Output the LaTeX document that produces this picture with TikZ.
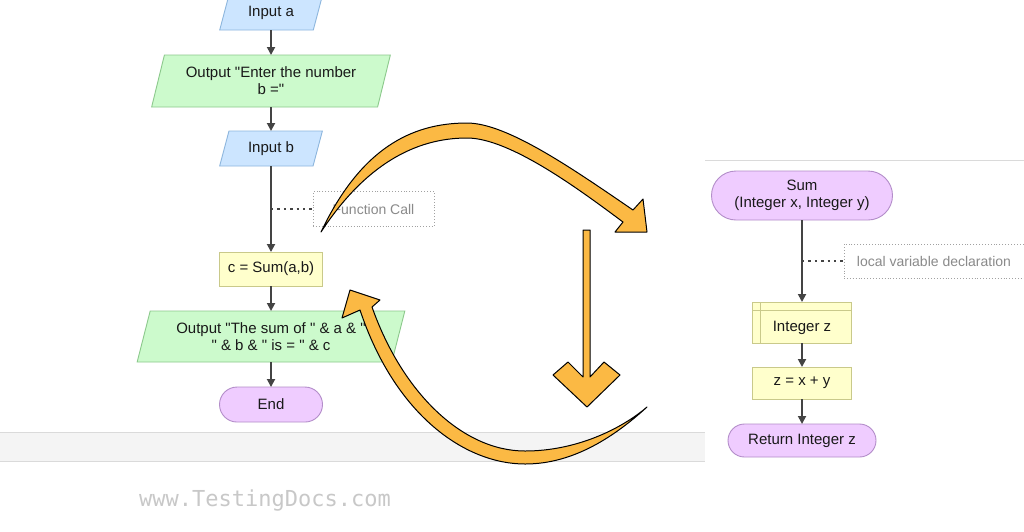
\documentclass[tikz,border=0pt]{standalone}
\usepackage{fontspec}
\setmainfont{Liberation Sans}[Ligatures=TeXOff]
\newfontfamily\markfont{DejaVu Sans Mono}
\usetikzlibrary{arrows.meta, positioning, calc, shapes.geometric, shapes.misc}
\definecolor{inblue}{HTML}{CCE5FF}
\definecolor{inbluedraw}{HTML}{8DB6DD}
\definecolor{outgreen}{HTML}{CCFACC}
\definecolor{outgreendraw}{HTML}{8CC98C}
\definecolor{procyellow}{HTML}{FFFFCC}
\definecolor{procyellowdraw}{HTML}{C9C98A}
\definecolor{termpurple}{HTML}{EFCCFF}
\definecolor{termpurpledraw}{HTML}{B38DC9}
\definecolor{flowgray}{HTML}{444444}
\definecolor{notegray}{HTML}{8A8A8A}
\definecolor{swaporange}{HTML}{FBB944}
\definecolor{bandgray}{HTML}{F4F4F4}
\definecolor{bandline}{HTML}{DADADA}
\definecolor{markgray}{HTML}{C8C8C8}
\tikzset{
    fcbox/.style={draw, line width=0.9pt, inner sep=0pt, outer sep=0pt, align=center, text=black!90, font=\fontsize{15}{17}\selectfont},
    iobox/.style={fcbox, trapezium, trapezium left angle=70, trapezium right angle=110, trapezium stretches=true},
    inbox/.style={iobox, draw=inbluedraw, fill=inblue},
    outbox/.style={iobox, draw=outgreendraw, fill=outgreen},
    procbox/.style={fcbox, rectangle, draw=procyellowdraw, fill=procyellow},
    termbox/.style={fcbox, rounded rectangle, draw=termpurpledraw, fill=termpurple},
    notebox/.style={fcbox, rectangle, draw=notegray!80, dotted, text=notegray, font=\fontsize{14}{16}\selectfont},
    flow/.style={-{Triangle[length=8pt, width=8pt]}, line width=1.8pt, draw=flowgray},
    noteline/.style={line width=1.6pt, draw=flowgray, dash pattern=on 2.4pt off 4pt},
    swaparrow/.style={fill=swaporange, draw=black, line width=1pt, line join=round}
}
\begin{document}
\begin{tikzpicture}[x=1pt, y=-1pt, node distance=25pt]
        \useasboundingbox (0,0) rectangle (1024,531);
        \fill[white] (0,0) rectangle (1024,531);
        \fill[bandgray] (0,432) rectangle (705,461);
        \draw[bandline, line width=1pt] (0,432) -- (705,432) (0,461) -- (705,461);
        \fill[white] (705,160) rectangle (1024,470);
        \draw[bandline, line width=1pt] (705,160) -- (1024,160);

        \node[inbox, minimum width=103pt, minimum height=34pt] (ina) at (271,13) {Input a};
        \node[outbox, below=of ina, minimum width=239pt, minimum height=52pt] (outenter) {Output "Enter the number\\b ="};
        \node[inbox, below=24pt of outenter, minimum width=103pt, minimum height=35pt] (inb) {Input b};
        \node[procbox, below=86pt of inb, minimum width=103pt, minimum height=34pt] (csum) {c = Sum(a,b)};
        \node[outbox, below=of csum, minimum width=268pt, minimum height=51pt] (outsum) {Output "The sum of " \& a \& "\\" \& b \& " is = " \& c};
        \node[termbox, below=of outsum, minimum width=103pt, minimum height=35pt] (endn) {End};
        \node[notebox, anchor=west, minimum width=121pt, minimum height=35pt] (fcall) at ($(inb.south)!0.5!(csum.north)+(42,0)$) {Function Call};

        \draw[flow] (ina) -- (outenter);
        \draw[flow] (outenter) -- (inb);
        \draw[flow] (inb) -- (csum);
        \draw[flow] (csum) -- (outsum);
        \draw[flow] (outsum) -- (endn);
        \draw[noteline] (inb.south |- fcall.west) -- (fcall.west);

        \node[termbox, minimum width=181pt, minimum height=49pt] (sumfn) at (802,195.5) {Sum\\(Integer x, Integer y)};
        \node[procbox, below=82pt of sumfn, minimum width=99pt, minimum height=41pt, text height=18pt, text depth=0pt] (intz) {Integer z};
        \node[procbox, below=24pt of intz, minimum width=99pt, minimum height=32pt] (zsum) {z = x + y};
        \node[termbox, below=of zsum, minimum width=148pt, minimum height=33pt] (retz) {Return Integer z};
        \node[notebox, anchor=west, minimum width=180pt, minimum height=34pt] (localvar) at ($(sumfn.south)!0.5!(intz.north)+(42,0)$) {local variable declaration};
        \draw[procyellowdraw, line width=0.9pt] ([yshift=-8pt]intz.north west) -- ([yshift=-8pt]intz.north east);
        \draw[procyellowdraw, line width=0.9pt] ([xshift=8pt]intz.north west) -- ([xshift=8pt]intz.south west);

        \draw[flow] (sumfn) -- (intz);
        \draw[flow] (intz) -- (zsum);
        \draw[flow] (zsum) -- (retz);
        \draw[noteline] (sumfn.south |- localvar.west) -- (localvar.west);

        \draw[swaparrow] (321,232) .. controls (360,150) and (410,123) .. (467,123)
            .. controls (507,123) and (573,169) .. (633,210) -- (643,199) -- (647,232) -- (615,232) -- (623,222)
            .. controls (580,190) and (510,138) .. (467,138)
            .. controls (415,138) and (365,165) .. (321,232) -- cycle;
        \draw[swaparrow] (568,362) -- (583,377) -- (583,230) -- (590,230) -- (590,377) -- (604,362)
            -- (620,375) -- (587,407) -- (553,375) -- cycle;
        \draw[swaparrow] (647,407) .. controls (600,450) and (560,464) .. (525,464)
            .. controls (465,464) and (395,415) .. (360,310) -- (342,318) -- (350,290) -- (380,300) -- (372,307)
            .. controls (402,392) and (462,451) .. (525,451)
            .. controls (575,451) and (620,430) .. (647,407) -- cycle;

        \node[text=markgray, font=\markfont\fontsize{22}{24}\selectfont] (mark) at (265,500) {www.TestingDocs.com};
\end{tikzpicture}
\end{document}
